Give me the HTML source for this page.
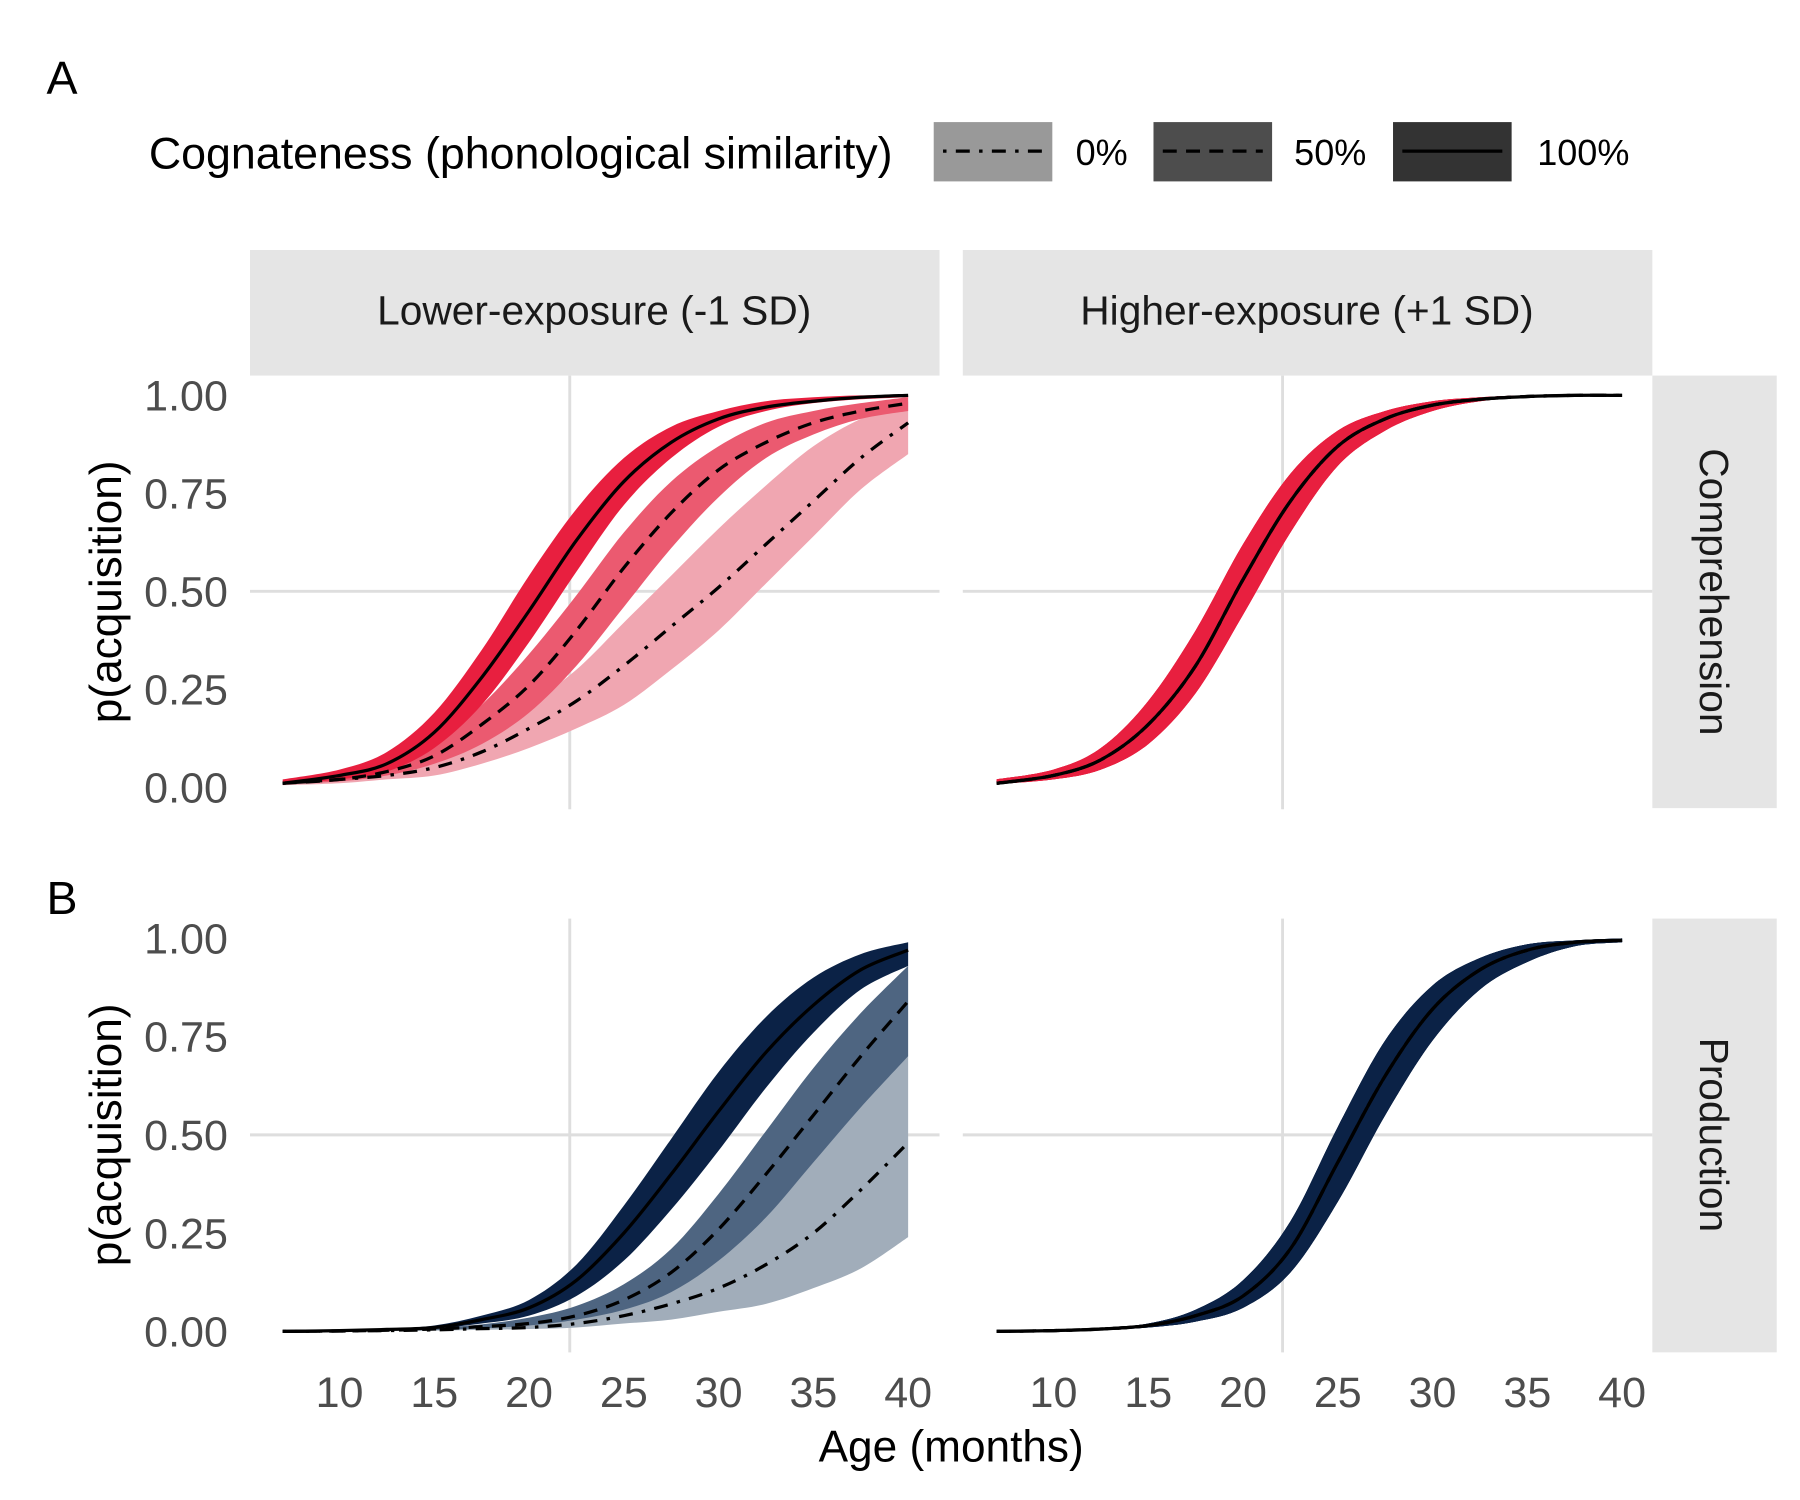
<!DOCTYPE html>
<html><head><meta charset="utf-8"><style>
html,body{margin:0;padding:0;background:#fff;}
svg{display:block;font-family:"Liberation Sans",sans-serif;}
</style></head><body>
<svg id="chart" width="1800" height="1500" viewBox="0 0 1548 1290" xmlns="http://www.w3.org/2000/svg">
<rect width="1548" height="1290" fill="#fff"/>
<text x="40" y="81" font-size="40">A</text>
<text x="40" y="786" font-size="40">B</text>
<g>
<text x="128" y="145" font-size="38.5">Cognateness (phonological similarity)</text>
<g><rect x="803" y="105" width="102" height="51" fill="#999"/><line x1="811" y1="130" x2="897" y2="130" stroke="#000" stroke-width="2.8" stroke-dasharray="3,8,12,8"/><text x="925" y="142" font-size="31">0%</text></g>
<g><rect x="992" y="105" width="102" height="51" fill="#4d4d4d"/><line x1="1000" y1="130" x2="1086" y2="130" stroke="#000" stroke-width="2.8" stroke-dasharray="12,8"/><text x="1113" y="142" font-size="31">50%</text></g>
<g><rect x="1198" y="105" width="102" height="51" fill="#333"/><line x1="1206" y1="130" x2="1292" y2="130" stroke="#000" stroke-width="2.8"/><text x="1322" y="142" font-size="31">100%</text></g>
</g>
<g>
<rect x="215" y="215" width="593" height="108" fill="#e5e5e5"/>
<text x="511" y="279" font-size="35" text-anchor="middle" fill="#1a1a1a">Lower-exposure (-1 SD)</text>
<rect x="828" y="215" width="593" height="108" fill="#e5e5e5"/>
<text x="1124" y="279" font-size="35" text-anchor="middle" fill="#1a1a1a">Higher-exposure (+1 SD)</text>
<rect x="1421" y="323" width="107" height="372" fill="#e5e5e5"/>
<text transform="translate(1462,509) rotate(90)" font-size="35" text-anchor="middle" fill="#1a1a1a">Comprehension</text>
<rect x="1421" y="790" width="107" height="373" fill="#e5e5e5"/>
<text transform="translate(1462,976) rotate(90)" font-size="35" text-anchor="middle" fill="#1a1a1a">Production</text>
</g>
<text transform="translate(104,509) rotate(-90)" font-size="38" text-anchor="middle">p(acquisition)</text>
<text transform="translate(104,976) rotate(-90)" font-size="38" text-anchor="middle">p(acquisition)</text>
<text x="818" y="1257" font-size="38" text-anchor="middle">Age (months)</text>
<g id="plots"></g>
</svg>
<script>
const ages=[7,10,12.5,15,17.5,20,22.5,25,27.5,30,32.5,35,37.5,40];
const xTicks=[10,15,20,25,30,35,40];
const yTicks=[0,0.25,0.5,0.75,1];
const yTickLabels=["0.00","0.25","0.50","0.75","1.00"];
// Comprehension, lower exposure
const cL100=[0.01,0.03,0.06,0.14,0.28,0.45,0.63,0.78,0.88,0.94,0.97,0.985,0.995,1.0];
const cL100lo=[0.008,0.02,0.04,0.10,0.21,0.37,0.55,0.72,0.84,0.92,0.96,0.98,0.99,0.995];
const cL100hi=[0.02,0.045,0.09,0.19,0.35,0.54,0.71,0.84,0.92,0.96,0.985,0.995,1,1];
const cL50=[0.01,0.02,0.04,0.08,0.16,0.26,0.40,0.56,0.70,0.81,0.88,0.93,0.96,0.98];
const cL50lo=[0.008,0.015,0.03,0.06,0.11,0.19,0.31,0.46,0.61,0.74,0.84,0.90,0.94,0.96];
const cL50hi=[0.015,0.03,0.06,0.11,0.21,0.34,0.49,0.65,0.78,0.87,0.93,0.96,0.98,0.995];
const cL0=[0.01,0.02,0.03,0.05,0.09,0.15,0.22,0.31,0.41,0.51,0.62,0.73,0.84,0.93];
const cL0lo=[0.005,0.01,0.02,0.03,0.06,0.10,0.15,0.21,0.30,0.40,0.52,0.64,0.76,0.85];
const cL0hi=[0.015,0.03,0.05,0.08,0.13,0.21,0.30,0.42,0.54,0.66,0.77,0.87,0.94,0.985];
// Comprehension, higher exposure
const cH=[0.01,0.03,0.07,0.16,0.31,0.53,0.73,0.87,0.94,0.975,0.99,0.997,1,1];
const cHlo=[0.008,0.02,0.045,0.11,0.24,0.44,0.65,0.82,0.91,0.96,0.985,0.995,0.999,1];
const cHhi=[0.02,0.045,0.10,0.22,0.40,0.62,0.80,0.91,0.96,0.985,0.995,1,1,1];
// Production, lower exposure
const pL100=[0,0.002,0.005,0.01,0.03,0.06,0.13,0.25,0.40,0.56,0.71,0.83,0.92,0.97];
const pL100lo=[0,0.001,0.003,0.007,0.02,0.04,0.09,0.18,0.31,0.46,0.62,0.76,0.87,0.93];
const pL100hi=[0,0.003,0.007,0.015,0.04,0.08,0.17,0.32,0.49,0.66,0.80,0.90,0.96,0.99];
const pL50=[0,0.001,0.003,0.006,0.012,0.02,0.04,0.08,0.15,0.26,0.40,0.55,0.70,0.84];
const pL50lo=[0,0.001,0.002,0.004,0.008,0.015,0.03,0.055,0.10,0.18,0.29,0.43,0.57,0.70];
const pL50hi=[0,0.002,0.004,0.009,0.018,0.035,0.065,0.12,0.21,0.35,0.51,0.67,0.81,0.93];
const pL0=[0,0.001,0.002,0.004,0.007,0.01,0.02,0.04,0.07,0.11,0.17,0.25,0.36,0.48];
const pL0lo=[0,0,0.001,0.002,0.004,0.006,0.01,0.02,0.03,0.05,0.07,0.11,0.16,0.24];
const pL0hi=[0,0.002,0.004,0.007,0.012,0.02,0.035,0.065,0.12,0.20,0.31,0.44,0.58,0.70];
// Production, higher exposure
const pH=[0,0.002,0.006,0.015,0.04,0.09,0.21,0.43,0.65,0.82,0.92,0.97,0.99,0.995];
const pHlo=[0,0.001,0.004,0.01,0.025,0.06,0.15,0.33,0.55,0.74,0.87,0.94,0.98,0.99];
const pHhi=[0,0.003,0.009,0.02,0.055,0.13,0.28,0.52,0.74,0.88,0.95,0.985,0.995,1];

const panels=[
 {name:'comprehension-lower',x0:215,y0:323,x10:292,y1:340,y0v:677,showY:true,showX:false,grid:490,
  series:[{n:'0',m:cL0,lo:cL0lo,hi:cL0hi,f:'#f0a6b1',d:'3,8,12,8'},{n:'50',m:cL50,lo:cL50lo,hi:cL50hi,f:'#eb5a70',d:'12,8'},{n:'100',m:cL100,lo:cL100lo,hi:cL100hi,f:'#e81f3f',d:''}]},
 {name:'comprehension-higher',x0:828,y0:323,x10:906,y1:340,y0v:677,showY:false,showX:false,grid:1103,
  series:[{n:'0',m:cH,lo:cHlo,hi:cHhi,f:'#e81f3f',d:'3,8,12,8'},{n:'50',m:cH,lo:cHlo,hi:cHhi,f:'#e81f3f',d:'12,8'},{n:'100',m:cH,lo:cHlo,hi:cHhi,f:'#e81f3f',d:''}]},
 {name:'production-lower',x0:215,y0:790,x10:292,y1:807,y0v:1145,showY:true,showX:true,grid:490,
  series:[{n:'0',m:pL0,lo:pL0lo,hi:pL0hi,f:'#a1adba',d:'3,8,12,8'},{n:'50',m:pL50,lo:pL50lo,hi:pL50hi,f:'#4e6581',d:'12,8'},{n:'100',m:pL100,lo:pL100lo,hi:pL100hi,f:'#0b2246',d:''}]},
 {name:'production-higher',x0:828,y0:790,x10:906,y1:807,y0v:1145,showY:false,showX:true,grid:1103,
  series:[{n:'0',m:pH,lo:pHlo,hi:pHhi,f:'#0b2246',d:'3,8,12,8'},{n:'50',m:pH,lo:pHlo,hi:pHhi,f:'#0b2246',d:'12,8'},{n:'100',m:pH,lo:pHlo,hi:pHhi,f:'#0b2246',d:''}]}
];
const NS='http://www.w3.org/2000/svg';
const root=document.getElementById('plots');
function mk(t,a,p){const e=document.createElementNS(NS,t);for(const k in a)e.setAttribute(k,a[k]);(p||root).appendChild(e);return e;}
function smooth(pts){let d='M'+pts[0][0]+','+pts[0][1];for(let i=0;i<pts.length-1;i++){const p0=pts[Math.max(0,i-1)],p1=pts[i],p2=pts[i+1],p3=pts[Math.min(pts.length-1,i+2)];
 d+=' C'+(p1[0]+(p2[0]-p0[0])/6)+','+(p1[1]+(p2[1]-p0[1])/6)+' '+(p2[0]-(p3[0]-p1[0])/6)+','+(p2[1]-(p3[1]-p1[1])/6)+' '+p2[0]+','+p2[1];}return d;}
panels.forEach(P=>{
 const sx=a=>P.x10+(a-10)*16.3;
 const sy=v=>P.y0v-(P.y0v-P.y1)*v;
 const g=mk('g',{});
 
 
 const gl=mk('line',{x1:P.x0,x2:P.x0+593,y1:sy(0.5),y2:sy(0.5),stroke:'#dedede','stroke-width':2.5},g);
 
 
 const gv=mk('line',{x1:P.grid,x2:P.grid,y1:P.y0,y2:P.y0+373,stroke:'#dedede','stroke-width':2.5},g);
 
 
 P.series.forEach(s=>{
  const up=ages.map((a,i)=>[sx(a),sy(s.hi[i])]);
  const dn=ages.map((a,i)=>[sx(a),sy(s.lo[i])]).reverse();
  const band=mk('path',{d:smooth(up)+' L'+smooth(dn).slice(1)+' Z',fill:s.f},g);
  
  
 });
 P.series.forEach(s=>{
  const ln=mk('path',{d:smooth(ages.map((a,i)=>[sx(a),sy(s.m[i])])),fill:'none',stroke:'#000','stroke-width':2.8,'stroke-dasharray':s.d||'none'},g);
  
  
 });
 if(P.showY){yTicks.forEach((v,i)=>{const t=mk('text',{x:196,y:sy(v)+13,'font-size':37,'text-anchor':'end',fill:'#4d4d4d'},g);t.textContent=yTickLabels[i];
  
  });}
 if(P.showX){xTicks.forEach(a=>{const t=mk('text',{x:sx(a),y:1210,'font-size':37,'text-anchor':'middle',fill:'#4d4d4d'},g);t.textContent=a;
  
  });}
});
</script>
</body></html>
